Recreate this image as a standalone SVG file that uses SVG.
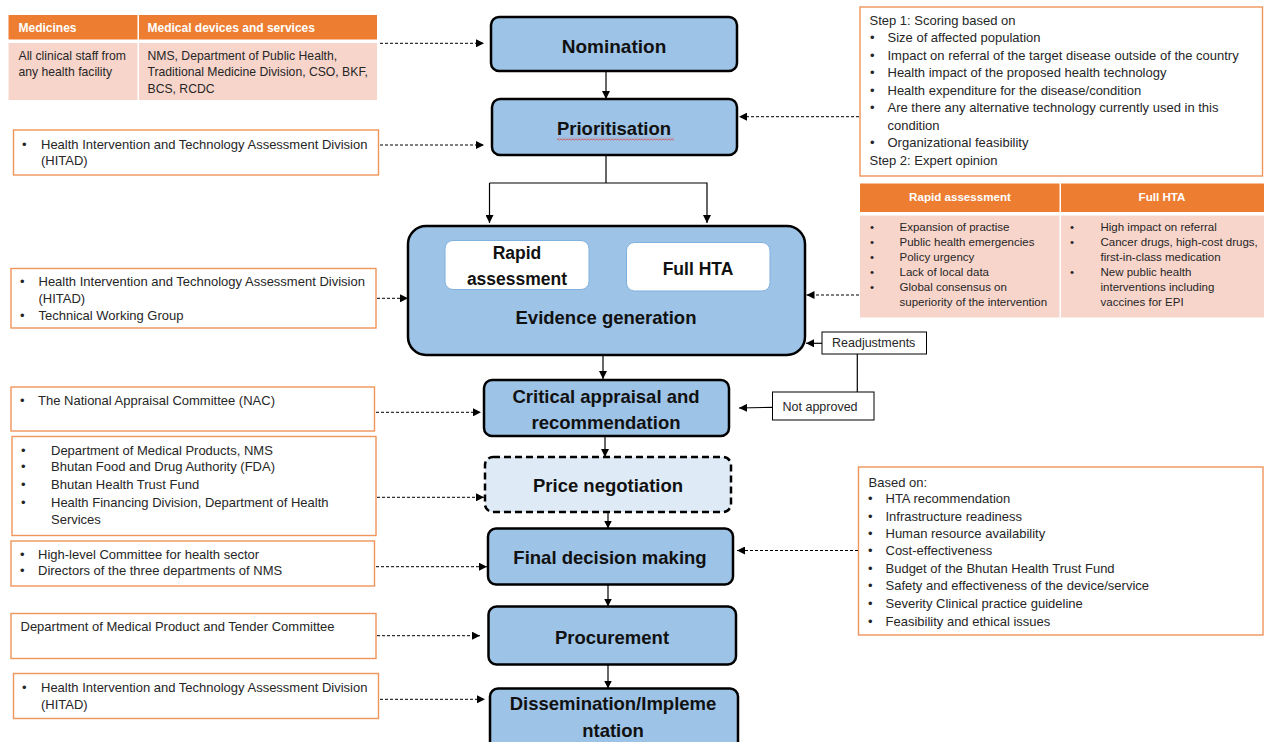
<svg xmlns="http://www.w3.org/2000/svg" width="1266" height="742" viewBox="0 0 1266 742">
<defs>
  <marker id="ah" markerUnits="userSpaceOnUse" markerWidth="9" markerHeight="8" refX="8" refY="4" orient="auto">
    <path d="M0,0 L8,4 L0,8 Z" fill="#000"/>
  </marker>
  <pattern id="squig" width="3" height="3" patternUnits="userSpaceOnUse">
    <path d="M0,0.5 L1.5,2.5 L3,0.5" fill="none" stroke="#E0403A" stroke-width="0.8"/>
  </pattern>
  <style>
    text { font-family: "Liberation Sans", Arial, sans-serif; fill: #262626; }
    .t { font-size: 13px; }
    .tt { font-size: 12.2px; }
    .s { font-size: 11.5px; }
    .hd { font-size: 11.6px; font-weight: bold; fill: #fff; }
    .node { fill: #9DC3E6; stroke: #000; stroke-width: 2.5; }
    .title { font-size: 18.5px; font-weight: bold; fill: #111; text-anchor: middle; }
    .ob { fill: #fff; stroke: #F0955A; stroke-width: 1.4; }
    .blk { fill: #fff; stroke: #000; stroke-width: 1; }
    .orange { fill: #ED7D31; }
    .pink { fill: #F8D5CB; }
    .solid { stroke: #000; stroke-width: 1.2; fill: none; }
    .dash { stroke: #000; stroke-width: 1; fill: none; stroke-dasharray: 3 2; }
  </style>
</defs>
<rect width="1266" height="742" fill="#fff"/>

<!-- Main flow nodes -->
<g id="nomination">
  <rect class="node" x="491" y="17" width="246" height="54" rx="8"/>
  <text class="title" x="614" y="52.5" style="font-size:19px">Nomination</text>
</g>
<g id="prioritisation">
  <rect class="node" x="492" y="99" width="245" height="56" rx="8"/>
  <text class="title" x="614" y="135">Prioritisation</text>
  <rect x="557" y="137.5" width="117" height="3" fill="url(#squig)"/>
</g>
<g id="evidence-generation">
  <rect class="node" x="408" y="226" width="397" height="129" rx="18"/>
  <rect x="445" y="240.5" width="144" height="49" rx="8" fill="#fff" stroke="#7FB0DE" stroke-width="1"/>
  <text class="title" x="517" y="259" style="font-size:17.5px">Rapid</text>
  <text class="title" x="517" y="285" style="font-size:17.5px">assessment</text>
  <rect x="626.5" y="242.5" width="143.5" height="48.5" rx="8" fill="#fff" stroke="#7FB0DE" stroke-width="1"/>
  <text class="title" x="698" y="275" style="font-size:17.5px">Full HTA</text>
  <text class="title" x="606" y="323.5">Evidence generation</text>
</g>
<g id="critical-appraisal">
  <rect class="node" x="484" y="380" width="245" height="56" rx="8"/>
  <text class="title" x="606" y="402.5">Critical appraisal and</text>
  <text class="title" x="606" y="428.5">recommendation</text>
</g>
<g id="price-negotiation">
  <rect x="485" y="457" width="246" height="55" rx="8" fill="#DEEBF7" stroke="#000" stroke-width="2.5" stroke-dasharray="7 4"/>
  <text class="title" x="608" y="492">Price negotiation</text>
</g>
<g id="final-decision">
  <rect class="node" x="488" y="528.5" width="245" height="56" rx="8"/>
  <text class="title" x="610" y="563.5">Final decision making</text>
</g>
<g id="procurement">
  <rect class="node" x="488.5" y="606.5" width="247.5" height="58" rx="8"/>
  <text class="title" x="612" y="644">Procurement</text>
</g>
<g id="dissemination">
  <rect class="node" x="490" y="688.5" width="248" height="70" rx="8"/>
  <text class="title" x="613" y="710">Dissemination/Impleme</text>
  <text class="title" x="613" y="736.5">ntation</text>
</g>

<!-- Left stakeholder boxes -->
<g id="nominators-table">
  <rect class="orange" x="8.5" y="15" width="129" height="24.5"/>
  <rect class="orange" x="139" y="15" width="238" height="24.5"/>
  <rect class="pink" x="8.5" y="43" width="129" height="57"/>
  <rect class="pink" x="139" y="43" width="238" height="57"/>
  <text class="hd" x="18.5" y="32" style="font-size:12px">Medicines</text>
  <text class="hd" x="147.5" y="32" style="font-size:12px">Medical devices and services</text>
  <text class="tt" x="18.5" y="59.5">All clinical staff from</text>
  <text class="tt" x="18.5" y="76">any health facility</text>
  <text class="tt" x="147.5" y="59.5">NMS, Department of Public Health,</text>
  <text class="tt" x="147.5" y="76">Traditional Medicine Division, CSO, BKF,</text>
  <text class="tt" x="147.5" y="92.5">BCS, RCDC</text>
</g>
<g id="hitad-prioritisation">
  <rect class="ob" x="13.5" y="130" width="365" height="45"/>
  <text class="t" x="22" y="148.5">•</text>
  <text class="t" x="41" y="148.5">Health Intervention and Technology Assessment Division</text>
  <text class="t" x="41" y="165">(HITAD)</text>
</g>
<g id="evidence-actors">
  <rect class="ob" x="11" y="268.5" width="365" height="59.5"/>
  <text class="t" x="20" y="286">•</text>
  <text class="t" x="38.5" y="286">Health Intervention and Technology Assessment Division</text>
  <text class="t" x="38.5" y="303">(HITAD)</text>
  <text class="t" x="20" y="320">•</text>
  <text class="t" x="38.5" y="320">Technical Working Group</text>
</g>
<g id="nac">
  <rect class="ob" x="11" y="387" width="363.5" height="44"/>
  <text class="t" x="20" y="405">•</text>
  <text class="t" x="38" y="405">The National Appraisal Committee (NAC)</text>
</g>
<g id="price-actors">
  <rect class="ob" x="12" y="436.5" width="364" height="99"/>
  <text class="t" x="21" y="454.5">•</text>
  <text class="t" x="51" y="454.5">Department of Medical Products, NMS</text>
  <text class="t" x="21" y="471">•</text>
  <text class="t" x="51" y="471">Bhutan Food and Drug Authority (FDA)</text>
  <text class="t" x="21" y="488.5">•</text>
  <text class="t" x="51" y="488.5">Bhutan Health Trust Fund</text>
  <text class="t" x="21" y="506.5">•</text>
  <text class="t" x="51" y="506.5">Health Financing Division, Department of Health</text>
  <text class="t" x="51" y="523.5">Services</text>
</g>
<g id="decision-actors">
  <rect class="ob" x="11" y="541" width="363.5" height="45"/>
  <text class="t" x="20" y="558.5">•</text>
  <text class="t" x="38" y="558.5">High-level Committee for health sector</text>
  <text class="t" x="20" y="575">•</text>
  <text class="t" x="38" y="575">Directors of the three departments of NMS</text>
</g>
<g id="procurement-actors">
  <rect class="ob" x="11" y="613.5" width="365" height="45"/>
  <text class="t" x="20.5" y="631">Department of Medical Product and Tender Committee</text>
</g>
<g id="hitad-dissemination">
  <rect class="ob" x="13.5" y="673.5" width="365" height="45"/>
  <text class="t" x="22" y="692">•</text>
  <text class="t" x="41" y="692">Health Intervention and Technology Assessment Division</text>
  <text class="t" x="41" y="708.5">(HITAD)</text>
</g>

<!-- Right boxes -->
<g id="prioritisation-criteria">
  <rect class="ob" x="860" y="7" width="402.5" height="169"/>
  <text class="t" x="869.5" y="25">Step 1: Scoring based on</text>
  <text class="t" x="870" y="42">•</text><text class="t" x="887.5" y="42">Size of affected population</text>
  <text class="t" x="870" y="60">•</text><text class="t" x="887.5" y="60">Impact on referral of the target disease outside of the country</text>
  <text class="t" x="870" y="77">•</text><text class="t" x="887.5" y="77">Health impact of the proposed health technology</text>
  <text class="t" x="870" y="94.5">•</text><text class="t" x="887.5" y="94.5">Health expenditure for the disease/condition</text>
  <text class="t" x="870" y="112">•</text><text class="t" x="887.5" y="112">Are there any alternative technology currently used in this</text>
  <text class="t" x="887.5" y="129.5">condition</text>
  <text class="t" x="870" y="147">•</text><text class="t" x="887.5" y="147">Organizational feasibility</text>
  <text class="t" x="869.5" y="164.5">Step 2: Expert opinion</text>
</g>
<g id="assessment-table">
  <rect class="orange" x="860" y="183.5" width="199.5" height="28.5"/>
  <rect class="orange" x="1061" y="183.5" width="203" height="28.5"/>
  <rect class="pink" x="860" y="215.5" width="199.5" height="102"/>
  <rect class="pink" x="1061" y="215.5" width="203" height="102"/>
  <text class="hd" x="960" y="201" text-anchor="middle">Rapid assessment</text>
  <text class="hd" x="1162" y="201" text-anchor="middle">Full HTA</text>
  <text class="s" x="870" y="231">•</text><text class="s" x="899.5" y="231">Expansion of practise</text>
  <text class="s" x="870" y="246">•</text><text class="s" x="899.5" y="246">Public health emergencies</text>
  <text class="s" x="870" y="261">•</text><text class="s" x="899.5" y="261">Policy urgency</text>
  <text class="s" x="870" y="275.5">•</text><text class="s" x="899.5" y="275.5">Lack of local data</text>
  <text class="s" x="870" y="290.5">•</text><text class="s" x="899.5" y="290.5">Global consensus on</text>
  <text class="s" x="899.5" y="305.5">superiority of the intervention</text>
  <text class="s" x="1070" y="231">•</text><text class="s" x="1100.5" y="231">High impact on referral</text>
  <text class="s" x="1070" y="246">•</text><text class="s" x="1100.5" y="246">Cancer drugs, high-cost drugs,</text>
  <text class="s" x="1100.5" y="261">first-in-class medication</text>
  <text class="s" x="1070" y="275.5">•</text><text class="s" x="1100.5" y="275.5">New public health</text>
  <text class="s" x="1100.5" y="290.5">interventions including</text>
  <text class="s" x="1100.5" y="305.5">vaccines for EPI</text>
</g>
<g id="readjustments">
  <rect class="blk" x="822" y="332" width="104.5" height="22"/>
  <text class="t" x="832" y="347" style="font-size:12.5px">Readjustments</text>
</g>
<g id="not-approved">
  <rect class="blk" x="772.5" y="392" width="101.5" height="28"/>
  <text class="t" x="782.5" y="411" style="font-size:12.5px">Not approved</text>
</g>
<g id="decision-criteria">
  <rect class="ob" x="858.5" y="467" width="404.5" height="168"/>
  <text class="t" x="868.5" y="487">Based on:</text>
  <text class="t" x="868" y="503">•</text><text class="t" x="885.5" y="503">HTA recommendation</text>
  <text class="t" x="868" y="520.5">•</text><text class="t" x="885.5" y="520.5">Infrastructure readiness</text>
  <text class="t" x="868" y="538">•</text><text class="t" x="885.5" y="538">Human resource availability</text>
  <text class="t" x="868" y="555">•</text><text class="t" x="885.5" y="555">Cost-effectiveness</text>
  <text class="t" x="868" y="572.5">•</text><text class="t" x="885.5" y="572.5">Budget of the Bhutan Health Trust Fund</text>
  <text class="t" x="868" y="590">•</text><text class="t" x="885.5" y="590">Safety and effectiveness of the device/service</text>
  <text class="t" x="868" y="608">•</text><text class="t" x="885.5" y="608">Severity Clinical practice guideline</text>
  <text class="t" x="868" y="625.5">•</text><text class="t" x="885.5" y="625.5">Feasibility and ethical issues</text>
</g>

<!-- Connectors -->
<g id="connectors">
  <line class="solid" x1="606" y1="71" x2="606" y2="99" marker-end="url(#ah)"/>
  <polyline class="solid" points="606,155 606,183"/>
  <polyline class="solid" points="489.5,183 707,183 707,223" marker-end="url(#ah)"/>
  <line class="solid" x1="489.5" y1="183" x2="489.5" y2="223" marker-end="url(#ah)"/>
  <line class="solid" x1="603" y1="355" x2="603" y2="379" marker-end="url(#ah)"/>
  <line class="solid" x1="605" y1="436" x2="605" y2="457" marker-end="url(#ah)"/>
  <line class="solid" x1="608" y1="512" x2="608" y2="528.5" marker-end="url(#ah)"/>
  <line class="solid" x1="608" y1="584.5" x2="608" y2="606.5" marker-end="url(#ah)"/>
  <line class="solid" x1="608" y1="664.5" x2="608" y2="688.5" marker-end="url(#ah)"/>
  <line class="solid" x1="822" y1="343.3" x2="806" y2="343.3" marker-end="url(#ah)"/>
  <line class="solid" x1="857.3" y1="354" x2="857.3" y2="392"/>
  <line class="solid" x1="772.5" y1="407.3" x2="739" y2="408" marker-end="url(#ah)"/>
  <line class="dash" x1="380" y1="43.3" x2="484" y2="43.3" marker-end="url(#ah)"/>
  <line class="dash" x1="380" y1="145" x2="484" y2="145" marker-end="url(#ah)"/>
  <line class="dash" x1="377" y1="298.3" x2="408" y2="298.3" marker-end="url(#ah)"/>
  <line class="dash" x1="376" y1="412.3" x2="481" y2="412.3" marker-end="url(#ah)"/>
  <line class="dash" x1="377" y1="497.3" x2="484" y2="497.3" marker-end="url(#ah)"/>
  <line class="dash" x1="376" y1="566.7" x2="487" y2="566.7" marker-end="url(#ah)"/>
  <line class="dash" x1="377" y1="635.7" x2="480" y2="635.7" marker-end="url(#ah)"/>
  <line class="dash" x1="380" y1="699.3" x2="485" y2="699.3" marker-end="url(#ah)"/>
  <line class="dash" x1="859" y1="116.7" x2="739" y2="116.7" marker-end="url(#ah)"/>
  <line class="dash" x1="859" y1="295" x2="806.5" y2="295" marker-end="url(#ah)"/>
  <line class="dash" x1="858" y1="550.5" x2="737" y2="550.5" marker-end="url(#ah)"/>
</g>
</svg>
